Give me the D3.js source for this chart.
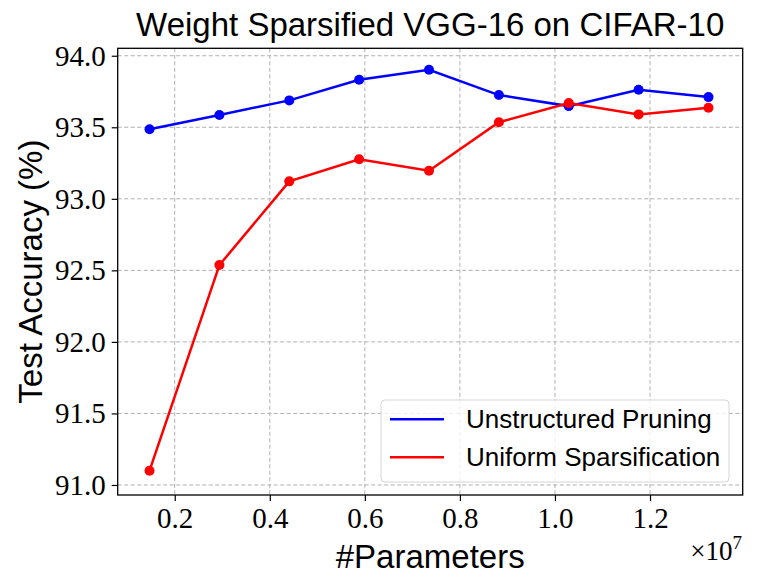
<!DOCTYPE html>
<html>
<head>
<meta charset="UTF-8" />
<script src="https://cdn.jsdelivr.net/npm/d3@7"></script>
<style>
  body { margin: 0; background: #fff; }
  svg text { fill: #000; }
</style>
</head>
<body>
<script>
  // data (x in units of 1e7 params)
  var params = [0.147, 0.294, 0.441, 0.588, 0.735, 0.882, 1.029, 1.176, 1.323];
  var unstructured = [93.486, 93.586, 93.688, 93.832, 93.902, 93.725, 93.648, 93.762, 93.711];
  var uniform = [91.10, 92.537, 93.122, 93.276, 93.196, 93.535, 93.669, 93.590, 93.637];
  var xTicks = [0.2, 0.4, 0.6, 0.8, 1.0, 1.2];
  var yTicks = [91.0, 91.5, 92.0, 92.5, 93.0, 93.5, 94.0];
  var seriesNames = ["Unstructured Pruning", "Uniform Sparsification"];
  var seriesColors = ["#0000ff", "#ff0000"];

  var W = 762, H = 588;
  var pL = 117.7, pR = 742.7, pT = 48.3, pB = 495;
  var serif = "'Liberation Serif', 'DejaVu Serif', serif";
  var sans = "'Liberation Sans', Arial, sans-serif";

  var svg = d3.select("body").append("svg")
    .attr("width", W).attr("height", H);

  var x = d3.scaleLinear().domain([0.08, 1.395]).range([pL, pR]);
  var y = d3.scaleLinear().domain([90.93, 94.052]).range([pB, pT]);

  // grid
  var grid = svg.append("g");
  grid.selectAll(".gx").data(xTicks).enter().append("line")
    .attr("x1", d => x(d)).attr("x2", d => x(d))
    .attr("y1", pT).attr("y2", pB)
    .attr("stroke", "#b0b0b0").attr("stroke-width", 1)
    .attr("stroke-dasharray", "4,2.5");
  grid.selectAll(".gy").data(yTicks).enter().append("line")
    .attr("x1", pL).attr("x2", pR)
    .attr("y1", d => y(d)).attr("y2", d => y(d))
    .attr("stroke", "#b0b0b0").attr("stroke-width", 1)
    .attr("stroke-dasharray", "4,2.5");

  // axes
  var xAxis = svg.append("g")
    .attr("transform", "translate(0," + pB + ")")
    .call(d3.axisBottom(x).tickValues(xTicks).tickFormat(d3.format(".1f")).tickSize(6).tickPadding(6));
  var yAxis = svg.append("g")
    .attr("transform", "translate(" + pL + ",0)")
    .call(d3.axisLeft(y).tickValues(yTicks).tickFormat(d3.format(".1f")).tickSize(6).tickPadding(6));
  [xAxis, yAxis].forEach(function (a) {
    a.select(".domain").remove();
    a.selectAll("line").attr("stroke", "#000").attr("stroke-width", 1.2);
    a.selectAll("text").attr("font-family", serif).attr("font-size", 29).attr("fill", "#000");
  });

  // series
  var allSeries = [unstructured, uniform];
  var line = d3.line().x((d, i) => x(params[i])).y(d => y(d));
  allSeries.forEach(function (vals, k) {
    svg.append("path").datum(vals)
      .attr("d", line).attr("fill", "none")
      .attr("stroke", seriesColors[k]).attr("stroke-width", 2.5);
    svg.selectAll(".pt" + k).data(vals).enter().append("circle")
      .attr("cx", (d, i) => x(params[i])).attr("cy", d => y(d))
      .attr("r", 5).attr("fill", seriesColors[k]);
  });

  // frame
  svg.append("rect")
    .attr("x", pL).attr("y", pT)
    .attr("width", pR - pL).attr("height", pB - pT)
    .attr("fill", "none").attr("stroke", "#000").attr("stroke-width", 1.3);

  // legend
  var lg = svg.append("g");
  lg.append("rect")
    .attr("x", 381).attr("y", 400).attr("width", 348).attr("height", 82)
    .attr("rx", 4).attr("fill", "#fff").attr("fill-opacity", 0.8)
    .attr("stroke", "#d5d5d5").attr("stroke-width", 1);
  seriesNames.forEach(function (name, k) {
    var ly = 419.3 + k * 38;
    lg.append("line")
      .attr("x1", 390).attr("x2", 444).attr("y1", ly).attr("y2", ly)
      .attr("stroke", seriesColors[k]).attr("stroke-width", 2.5);
    lg.append("text")
      .attr("x", 466).attr("y", ly + 9)
      .attr("font-family", sans).attr("font-size", 26)
      .text(name);
  });

  // titles
  svg.append("text")
    .attr("x", (pL + pR) / 2).attr("y", 36)
    .attr("text-anchor", "middle")
    .attr("font-family", sans).attr("font-size", 33)
    .text("Weight Sparsified VGG-16 on CIFAR-10");
  svg.append("text")
    .attr("x", (pL + pR) / 2).attr("y", 568)
    .attr("text-anchor", "middle")
    .attr("font-family", sans).attr("font-size", 33)
    .text("#Parameters");
  svg.append("text")
    .attr("transform", "translate(42," + ((pT + pB) / 2) + ") rotate(-90)")
    .attr("text-anchor", "middle")
    .attr("font-family", sans).attr("font-size", 33)
    .text("Test Accuracy (%)");

  // offset text
  var off = svg.append("text")
    .attr("x", 742).attr("y", 560)
    .attr("text-anchor", "end")
    .attr("font-family", serif).attr("font-size", 27);
  off.append("tspan").text("\u00d710");
  off.append("tspan").attr("dy", -11).attr("font-size", 19).text("7");
</script>
</body>
</html>
